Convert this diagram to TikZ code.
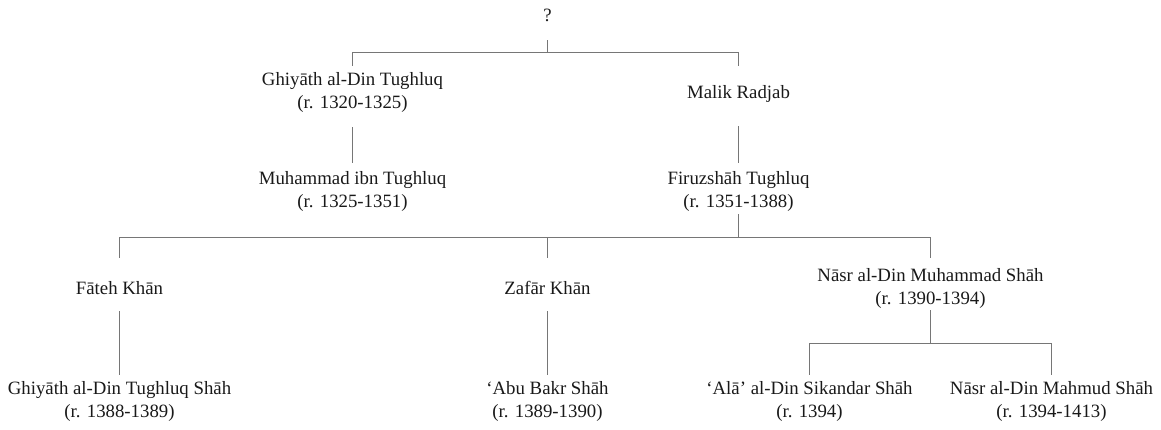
\documentclass[tikz,border=0pt]{standalone}
\usepackage{fontspec}
\setmainfont{Liberation Serif}
\usetikzlibrary{positioning}
\definecolor{linegray}{RGB}{118,118,118}
\tikzstyle{person}=[align=center,inner sep=0pt,text=black!90,font=\fontsize{14.1}{17.25}\selectfont]
\tikzstyle{link}=[draw=linegray,line width=0.8pt]
\tikzset{hv/.style={to path={-| (\tikztotarget)}}}

\begin{document}
\begin{tikzpicture}[x=0.75pt,y=-0.75pt]
\useasboundingbox (0,0) rectangle (1161,429);
% generations
\node[person] (Q) at (547.5,15.5) {?};
\node[person] (GT) at (352.5,92) {Ghiyāth al-Din Tughluq\\(r. 1320-1325)};
\node[person] (MR) at (738.5,94) {Malik Radjab};
\node[person] (MT) at (352.5,191) {Muhammad ibn Tughluq\\(r. 1325-1351)};
\node[person] (FT) at (738.5,191) {Firuzshāh Tughluq\\(r. 1351-1388)};
\node[person] (FK) at (119.5,288) {Fāteh Khān};
\node[person] (ZK) at (547.5,288) {Zafār Khān};
\node[person] (NM) at (930.5,288) {Nāsr al-Din Muhammad Shāh\\(r. 1390-1394)};
\node[person] (GS) at (119.5,401) {Ghiyāth al-Din Tughluq Shāh\\(r. 1388-1389)};
\node[person] (AB) at (547.5,401) {‘Abu Bakr Shāh\\(r. 1389-1390)};
\node[person] (AS) at (809.5,401) {‘Alā’ al-Din Sikandar Shāh\\(r. 1394)};
\node[person] (ND) at (1051.5,401) {Nāsr al-Din Mahmud Shāh\\(r. 1394-1413)};
% junctions
\coordinate (J1) at (547.5,52.5);
\coordinate (J2) at (738.5,237.5);
\coordinate (J3) at (930.5,343.5);
\path[link]
(Q.center) edge[shorten <=18.5pt] (J1)
(J1) edge[hv,shorten >=19.5pt] (GT.center)
(J1) edge[hv,shorten >=21pt] (MR.center)
(GT.center) edge[shorten <=26.25pt,shorten >=21pt] (MT.center)
(MR.center) edge[shorten <=24pt,shorten >=21pt] (FT.center)
(FT.center) edge[shorten <=17.25pt] (J2)
(J2) edge[hv,shorten >=22.5pt] (FK.center)
(J2) edge[hv,shorten >=22.5pt] (ZK.center)
(J2) edge[hv,shorten >=22.5pt] (NM.center)
(FK.center) edge[shorten <=17.25pt,shorten >=19.5pt] (GS.center)
(ZK.center) edge[shorten <=17.25pt,shorten >=19.5pt] (AB.center)
(NM.center) edge[shorten <=16.5pt] (J3)
(J3) edge[hv,shorten >=19.5pt] (AS.center)
(J3) edge[hv,shorten >=19.5pt] (ND.center);
\end{tikzpicture}
\end{document}
